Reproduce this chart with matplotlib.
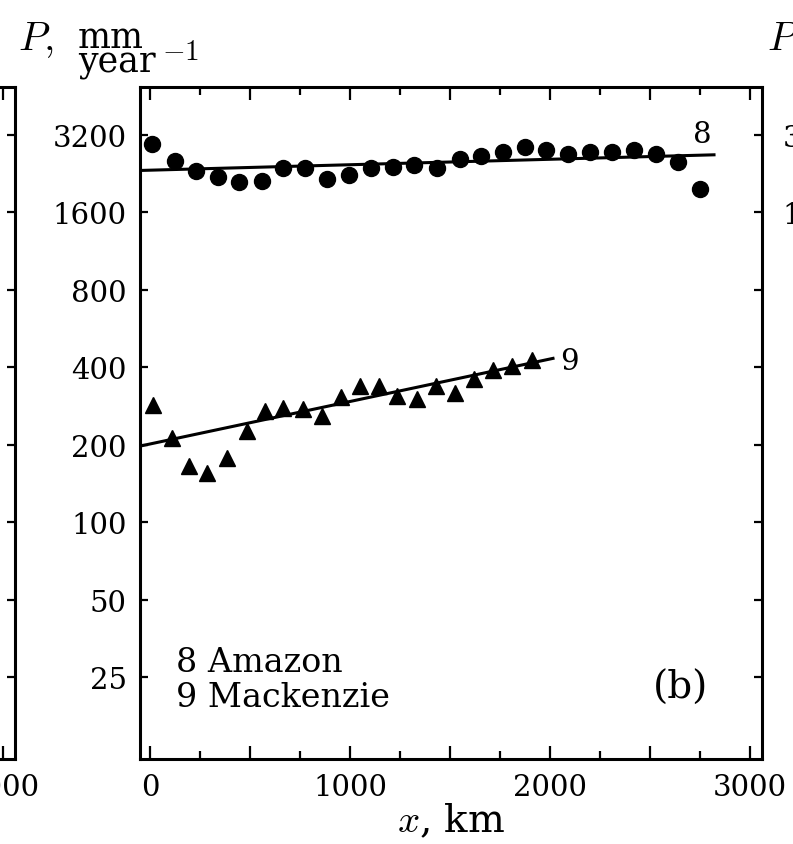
import matplotlib
matplotlib.use("Agg")
import matplotlib.pyplot as plt
from matplotlib.ticker import FixedLocator, FixedFormatter, NullLocator

plt.rcParams['font.family'] = ['DejaVu Serif']
plt.rcParams['mathtext.fontset'] = 'cm'

# ---- data ----
amazon_x = [10, 125, 230, 340, 445, 560, 665, 775, 885, 995, 1105, 1215, 1320,
            1435, 1550, 1655, 1765, 1875, 1980, 2090, 2200, 2310, 2420, 2530, 2640, 2750]
amazon_p = [2950, 2540, 2320, 2200, 2100, 2120, 2380, 2380, 2160, 2240, 2380, 2400, 2450,
            2380, 2580, 2650, 2750, 2870, 2800, 2700, 2750, 2750, 2800, 2700, 2520, 1980]
mackenzie_x = [16, 108, 197, 287, 387, 483, 575, 667, 763, 858, 953, 1050, 1147,
               1237, 1333, 1430, 1525, 1620, 1713, 1808, 1908]
mackenzie_p = [286, 212, 166, 156, 178, 227, 272, 278, 276, 260, 306, 338, 338,
               309, 302, 338, 318, 361, 392, 407, 429]
amazon_fit_x = [-50, 2820]
amazon_fit_p = [2330, 2680]
mackenzie_fit_x = [-50, 2015]
mackenzie_fit_p = [198, 434]

y_ticks = [25, 50, 100, 200, 400, 800, 1600, 3200]
y_ticklabels = ['25', '50', '100', '200', '400', '800', '1600', '3200']
x_major = [0, 500, 1000, 1500, 2000, 2500, 3000]
x_major_labels = ['0', '', '1000', '', '2000', '', '3000']
x_minor = [250, 750, 1250, 1750, 2250, 2750]
legend_lines = ['8 Amazon', '9 Mackenzie']
xlim = (-50, 3060)
ylim = (12.06, 4915)

W, H = 793, 845
fig = plt.figure(figsize=(W / 100, H / 100), dpi=100)

def px_rect(left, top, right, bottom):
    return [left / W, 1 - bottom / H, (right - left) / W, (bottom - top) / H]

TICK_FS = 21

def style_axes(ax, xlabels, ylabels):
    ax.set_xlim(*xlim)
    ax.set_yscale('log')
    ax.set_ylim(*ylim)
    ax.yaxis.set_major_locator(FixedLocator(y_ticks))
    ax.yaxis.set_major_formatter(FixedFormatter(ylabels))
    ax.yaxis.set_minor_locator(NullLocator())
    ax.xaxis.set_major_locator(FixedLocator(x_major))
    ax.xaxis.set_major_formatter(FixedFormatter(xlabels))
    ax.xaxis.set_minor_locator(FixedLocator(x_minor))
    for s in ax.spines.values():
        s.set_linewidth(2.2)
    ax.tick_params(axis='both', which='both', direction='in', top=True, right=True,
                   labelsize=TICK_FS, width=1.6, colors='black')
    ax.tick_params(axis='y', which='major', length=5.5, pad=9.5)
    ax.tick_params(axis='x', which='major', length=9.5, pad=10)
    ax.tick_params(axis='x', which='minor', length=6)

spine_w = 622
blank_y = [''] * len(y_ticks)
# left neighbour panel (mostly outside the figure): only its last x label reaches in
axL = fig.add_axes(px_rect(15 - spine_w, 88, 15, 760))
style_axes(axL, [''] * 6 + [x_major_labels[-1]], blank_y)
axL.tick_params(labelleft=False)
# main panel (b)
ax = fig.add_axes(px_rect(140, 88, 762, 760))
style_axes(ax, x_major_labels, y_ticklabels)
# right neighbour panel (outside the figure): only its top two y labels reach in
axR = fig.add_axes(px_rect(870, 88, 870 + spine_w, 760))
style_axes(axR, [''] * len(x_major), [''] * 6 + y_ticklabels[-2:])
axR.tick_params(labelbottom=False)

ax.plot(amazon_x, amazon_p, 'o', color='black', markersize=11.5, zorder=3)
ax.plot(mackenzie_x, mackenzie_p, '^', color='black', markersize=12, zorder=3)
ax.plot(amazon_fit_x, amazon_fit_p, '-', color='black', lw=2.2, zorder=2)
ax.plot(mackenzie_fit_x, mackenzie_fit_p, '-', color='black', lw=2.2, zorder=2)
ax.text(2760, 3230, '8', fontsize=21, ha='center', va='center')
ax.text(2095, 425, '9', fontsize=21, ha='center', va='center')

fig.text(176 / W, 1 - 672 / H, legend_lines[0], fontsize=24, ha='left', va='baseline')
fig.text(176 / W, 1 - 707 / H, legend_lines[1], fontsize=24, ha='left', va='baseline')
fig.text(681 / W, 1 - 688 / H, '(b)', fontsize=28, ha='center', va='center')

# x axis label
fig.text(451 / W, 1 - 832 / H, r'$x$, km', fontsize=28, ha='center', va='baseline')

# y axis label (stacked as in the original)
fig.canvas.draw()
renderer = fig.canvas.get_renderer()

fig.text(18 / W, 1 - 50 / H, r'$P,$', fontsize=29, ha='left', va='baseline')
t = fig.text(78 / W, 1 - 73 / H, 'mm\nyear', fontsize=25, ha='left',
             va='baseline', linespacing=0.68)
bb = t.get_window_extent(renderer)
fig.text((bb.x1 + 6) / W, 1 - 60 / H, r'$-1$', fontsize=21, ha='left', va='baseline')
# the neighbouring panel's label, of which only the P reaches into view
fig.text(767 / W, 1 - 50 / H, r'$P$', fontsize=29, ha='left', va='baseline')

fig.savefig('out.png', dpi=100)
